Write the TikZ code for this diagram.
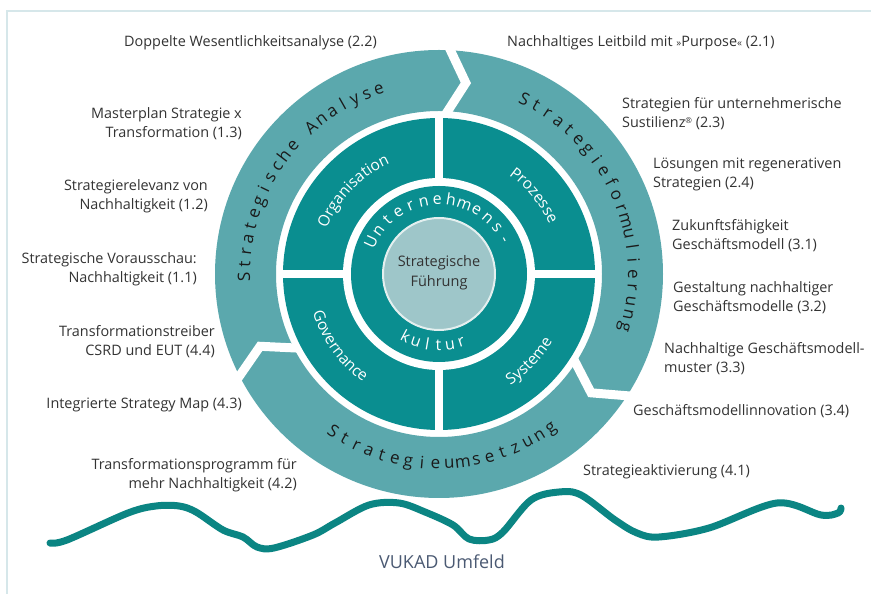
\documentclass[tikz,border=0pt]{standalone}
\usepackage{fontspec}
\setmainfont{Open Sans}
\usetikzlibrary{decorations.text}

\definecolor{ringteal}{HTML}{5BA8AD}
\definecolor{quadteal}{HTML}{0A8E90}
\definecolor{corefill}{HTML}{9EC6C9}
\definecolor{coreline}{HTML}{E3EFEF}
\definecolor{labelgray}{HTML}{333333}
\definecolor{ringink}{HTML}{1A1A1A}
\definecolor{waveteal}{HTML}{0B8583}
\definecolor{framecol}{HTML}{D6E7EA}
\definecolor{envink}{HTML}{4B5A73}

% letters set one by one along a circle:
% #1 style, #2 name prefix, #3 baseline radius, #4 first angle,
% #5 angle step, #6 rotation offset, #7 letters
\newcommand\arcletters[7]{%
  \foreach \ch [count=\k] in {#7} {%
    \pgfmathsetmacro\ang{#4+(\k-1)*(#5)}%
    \node[#1, rotate=\ang+#6] (#2-\k) at (\ang:#3) {\ch};
  }}

\begin{document}
\begin{tikzpicture}[x=1pt,y=1pt,
  label/.style={font=\fontsize{14.4}{19}\selectfont, text=labelgray, inner sep=0pt},
  lleft/.style={label, align=right, anchor=east},
  lright/.style={label, align=left, anchor=west},
  ringletter/.style={font=\fontsize{17}{17}\selectfont, text=ringink, inner sep=0pt, anchor=base},
  coreletter/.style={font=\fontsize{16}{16}\selectfont, text=white, inner sep=0pt, anchor=base},
  gapline/.style={white, line width=9pt, line join=miter},
  sepline/.style={white, line width=8pt},
]
\useasboundingbox (0,0) rectangle (871,594);
\fill[white] (0,0) rectangle (871,594);
\draw[framecol, line width=2pt] (7,0) -- (7,583) -- (871,583);

\begin{scope}[shift={(439,320)}]
  % outer ring, cut into three arrows
  \fill[ringteal, even odd rule] (0,0) circle (224) (0,0) circle (163);
  \foreach \b in {88,-32,208} {
    \draw[gapline] (\b:231) -- ({\b-6}:193) -- (\b:158);
  }
  % four quadrants
  \fill[quadteal] (0,0) circle (156);
  \draw[sepline] (0,-160) -- (0,160);
  \draw[sepline] (-160,0) -- (160,0);
  \fill[white] (0,0) circle (96);
  % culture ring and core
  \fill[quadteal] (0,0) circle (88);
  \fill[corefill, draw=coreline, line width=2pt] (0,0) circle (56);
  \node[font=\fontsize{14.5}{20}\selectfont, text=labelgray, align=center] (core) at (0,1) {Strategische\\Führung};

  % ring headings
  \arcletters{ringletter}{ana}{189}{181}{-3.84}{-90}{S,t,r,a,t,e,g,i,s,c,h,e,{},A,n,a,l,y,s,e}
  \arcletters{ringletter}{form}{189}{64}{-4.0}{-90}{S,t,r,a,t,e,g,i,e,f,o,r,m,u,l,i,e,r,u,n,g}
  \arcletters{ringletter}{ums}{195}{-124}{4.12}{90}{S,t,r,a,t,e,g,i,e,u,m,s,e,t,z,u,n,g}
  \arcletters{coreletter}{unt}{69.5}{155}{-10.6}{-90}{U,n,t,e,r,n,e,h,m,e,n,s,-}
  \arcletters{coreletter}{kul}{76.5}{-118}{9.2}{90}{k,u,l,t,u,r}

  % quadrant names
  \path[decorate, decoration={text along path, text align=center,
      text={|\fontsize{15.5}{15.5}\selectfont\color{white}|Organisation}}]
    (171:121) arc[start angle=171, end angle=101, radius=121];
  \path[decorate, decoration={text along path, text align=center,
      text={|\fontsize{15.5}{15.5}\selectfont\color{white}|Prozesse}}]
    (74.5:121) arc[start angle=74.5, end angle=4.5, radius=121];
  \path[decorate, decoration={text along path, text align=center,
      text={|\fontsize{15.5}{15.5}\selectfont\color{white}|Governance}}]
    (181:132) arc[start angle=181, end angle=251, radius=132];
  \path[decorate, decoration={text along path, text align=center,
      text={|\fontsize{15.5}{15.5}\selectfont\color{white}|Systeme}}]
    (-79:132) arc[start angle=-79, end angle=-9, radius=132];
\end{scope}

% labels on the left
\node[lleft] (l22) at (377,551) {Doppelte Wesentlichkeitsanalyse (2.2)};
\node[lleft] (l13) at (242,470.5) {Masterplan Strategie x\\Transformation (1.3)};
\node[lleft] (l12) at (208,398) {Strategierelevanz von\\Nachhaltigkeit (1.2)};
\node[lleft] (l11) at (197,324.5) {Strategische Vorausschau:\\Nachhaltigkeit (1.1)};
\node[lleft] (l44) at (215,252.5) {Transformationstreiber\\CSRD und EUT (4.4)};
\node[lleft] (l43) at (242,189) {Integrierte Strategy Map (4.3)};
\node[lleft] (l42) at (297,119) {Transformationsprogramm für\\mehr Nachhaltigkeit (4.2)};

% labels on the right
\node[lright] (r21) at (507,551) {Nachhaltiges Leitbild mit {\fontsize{10}{10}\selectfont»}Purpose{\fontsize{10}{10}\selectfont«} (2.1)};
\node[lright] (r23) at (622,480.5) {Strategien für unternehmerische\\Sustilienz{\fontsize{8}{8}\selectfont\raisebox{4pt}{®}} (2.3)};
\node[lright] (r24) at (653,419.5) {Lösungen mit regenerativen\\Strategien (2.4)};
\node[lright] (r31) at (672,358.5) {Zukunftsfähigkeit\\Geschäftsmodell (3.1)};
\node[lright] (r32) at (673,296.5) {Gestaltung nachhaltiger\\Geschäftsmodelle (3.2)};
\node[lright] (r33) at (664,235.5) {Nachhaltige Geschäftsmodell-\\muster (3.3)};
\node[lright] (r34) at (633,183) {Geschäftsmodellinnovation (3.4)};
\node[lright] (r41) at (583,122) {Strategieaktivierung (4.1)};

% environment line
\draw[waveteal, line width=7pt, line cap=round, line join=round]
  plot[smooth, tension=0.55] coordinates {
    (50,51) (67,54) (128,81) (156,88) (179,88) (196,82) (223,64) (243,57)
    (257,47) (274,46) (313,59) (335,71) (369,89) (399,91) (425,82) (453,69)
    (469,55) (489,54) (503,62) (531,94) (559,102) (581,99) (615,74) (637,61)
    (659,57) (709,66) (777,91) (821,79) (838,81) (841,86)};
\node[font=\fontsize{18}{18}\selectfont, text=envink] (env) at (442,32) {VUKAD Umfeld};
\end{tikzpicture}
\end{document}
